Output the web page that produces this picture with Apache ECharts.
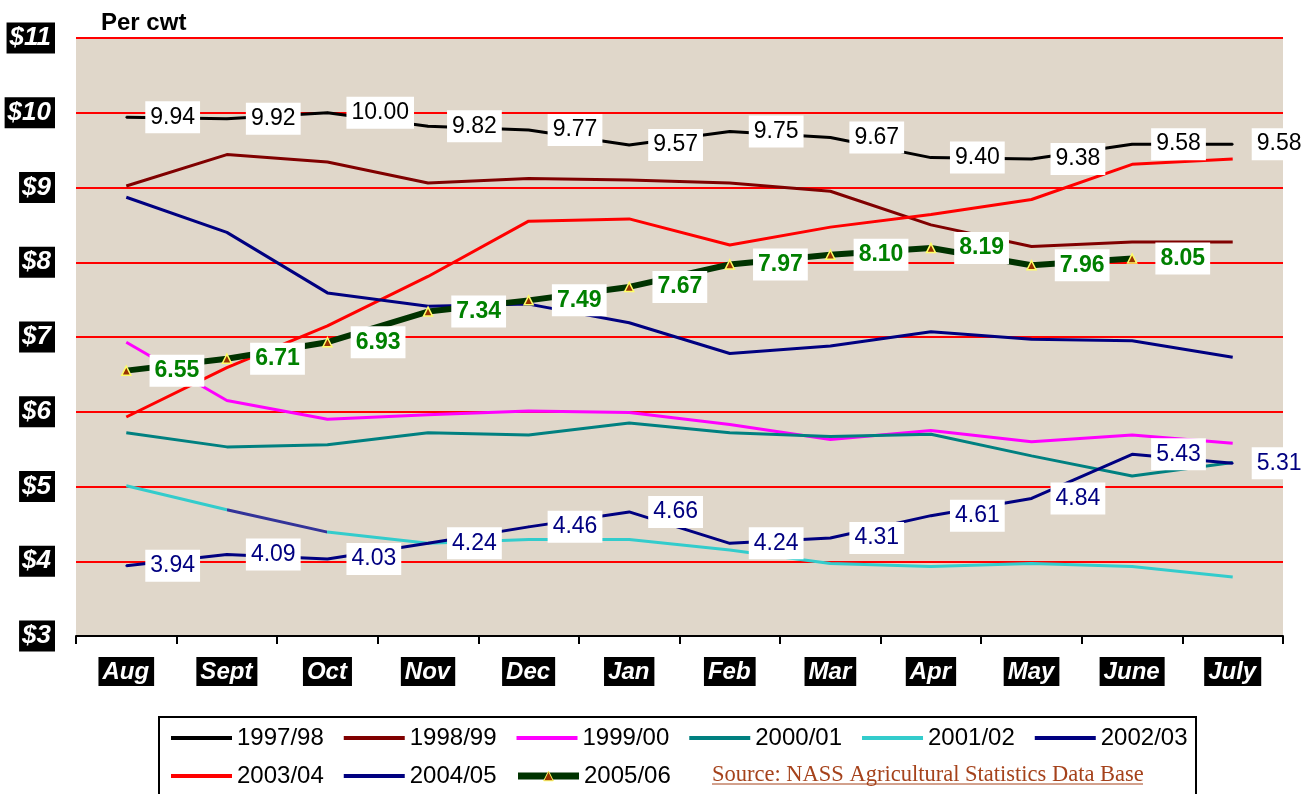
<!DOCTYPE html>
<html>
<head>
<meta charset="utf-8">
<script src="https://cdn.jsdelivr.net/npm/echarts@6/dist/echarts.min.js"></script>
<style>
  html, body { margin: 0; padding: 0; background: #fff; }
  #main { width: 1314px; height: 794px; }
</style>
</head>
<body>
<div id="main"></div>
<script>
// 月份
var months = ['Aug', 'Sept', 'Oct', 'Nov', 'Dec', 'Jan', 'Feb', 'Mar', 'Apr', 'May', 'June', 'July'];
var seasons = ['1997/98', '1998/99', '1999/00', '2000/01', '2001/02', '2002/03', '2003/04', '2004/05', '2005/06'];

// 每个年度的价格 ($ per cwt)
var y9798 = [9.94, 9.92, 10.00, 9.82, 9.77, 9.57, 9.75, 9.67, 9.40, 9.38, 9.58, 9.58];
var y9899 = [9.02, 9.44, 9.34, 9.06, 9.12, 9.10, 9.06, 8.95, 8.50, 8.21, 8.27, 8.27];
var y9900 = [6.93, 6.15, 5.90, 5.96, 6.01, 5.99, 5.83, 5.63, 5.75, 5.60, 5.69, 5.58];
var y0001 = [5.72, 5.53, 5.56, 5.72, 5.69, 5.85, 5.72, 5.67, 5.70, 5.41, 5.14, 5.32];
var y0102 = [5.01, 4.69, 4.39, 4.24, 4.29, 4.29, 4.15, 3.97, 3.93, 3.97, 3.93, 3.79];
var y0203 = [3.94, 4.09, 4.03, 4.24, 4.46, 4.66, 4.24, 4.31, 4.61, 4.84, 5.43, 5.31];
var y0304 = [5.93, 6.59, 7.15, 7.81, 8.55, 8.58, 8.23, 8.47, 8.64, 8.84, 9.31, 9.38];
var y0405 = [8.87, 8.40, 7.59, 7.41, 7.44, 7.19, 6.78, 6.88, 7.07, 6.97, 6.95, 6.73];
var y0506 = [6.55, 6.71, 6.93, 7.34, 7.49, 7.67, 7.97, 8.10, 8.19, 7.96, 8.05, null];

var yTicks = [3, 4, 5, 6, 7, 8, 9, 10, 11];

var font = 'Liberation Sans, Arial, sans-serif';

function lbl(color, bold) {
  return {
    show: true,
    position: 'right',
    distance: 18,
    color: color,
    fontFamily: font,
    fontSize: 23,
    fontWeight: bold ? 'bold' : 'normal',
    lineHeight: 25,
    backgroundColor: '#fff',
    padding: [4, 5, 3, 5],
    formatter: function (p) { return p.value == null ? '' : p.value.toFixed(2); }
  };
}

function plain(name, data, color) {
  return {
    name: name, type: 'line', data: data, symbol: 'none',
    lineStyle: { color: color, width: 3 }, itemStyle: { color: color }
  };
}

function labeled(name, data, color, txtColor, bold) {
  return {
    name: name, type: 'line', data: data, z: 3,
    symbol: 'circle', symbolSize: 2,
    lineStyle: { color: color, width: 3 }, itemStyle: { color: color },
    label: lbl(txtColor, bold)
  };
}

var s0506 = labeled('2005/06', y0506, '#003300', '#008000', true);
s0506.symbol = 'triangle';
s0506.symbolSize = 9;
s0506.lineStyle.width = 6;
s0506.itemStyle = { color: '#993300', borderColor: '#ffff66', borderWidth: 1.5 };

// 2001/02 的颜色由 visualMap 决定（Sept-Oct 一段是深蓝）
var s0102 = plain('2001/02', y0102, '#33cccc');
delete s0102.lineStyle.color;

// 图例：前八项只画线，2005/06 画粗线加三角
var legendData = seasons.map(function (s) {
  if (s === '2005/06') {
    return { name: s, lineStyle: { width: 7 }, itemStyle: { borderColor: '#ffff66', borderWidth: 1 } };
  }
  return { name: s, lineStyle: { width: 4 }, itemStyle: { opacity: 0 } };
});

function legendRow(items, top) {
  return {
    data: items, left: 169, top: top,
    padding: 0, itemWidth: 61, itemHeight: 12, itemGap: 18,
    textStyle: { fontFamily: font, fontSize: 24, color: '#000' }
  };
}

var myChart = echarts.init(document.getElementById('main'));
var option = {
  backgroundColor: '#fff',
  animation: false,
  title: {
    text: 'Per cwt', left: 96, top: 6,
    textStyle: { fontFamily: font, fontSize: 24, fontWeight: 'bold', color: '#000' }
  },
  grid: {
    left: 76, right: 31, top: 38, bottom: 158,
    show: true, backgroundColor: '#e0d7ca', borderWidth: 0
  },
  xAxis: {
    type: 'category',
    data: months,
    boundaryGap: true,
    axisLine: { lineStyle: { color: '#000', width: 2 } },
    axisTick: { show: true, length: 8, lineStyle: { color: '#000', width: 2 } },
    axisLabel: {
      margin: 21, color: '#fff', backgroundColor: '#000',
      fontFamily: font, fontSize: 24, fontWeight: 'bold', fontStyle: 'italic',
      padding: [3, 5, 2, 4]
    }
  },
  yAxis: {
    type: 'value', min: yTicks[0], max: yTicks[yTicks.length - 1], interval: 1,
    axisLine: { show: false }, axisTick: { show: false },
    splitLine: { lineStyle: { color: '#ff0000', width: 2 } },
    axisLabel: {
      margin: 21, color: '#fff', backgroundColor: '#000',
      fontFamily: font, fontSize: 26, fontWeight: 'bold', fontStyle: 'italic',
      padding: [3, 4, 2, 3],
      formatter: function (v) { return '$' + v; }
    }
  },
  legend: [
    legendRow(legendData.slice(0, 6), 726),
    legendRow(legendData.slice(6), 764)
  ],
  visualMap: [{
    type: 'piecewise', show: false, seriesIndex: 4, dimension: 0,
    pieces: [{ gte: 1, lte: 2, color: '#333399' }],
    outOfRange: { color: '#33cccc' }
  }],
  graphic: [
    { type: 'rect', z: 0, shape: { x: 159, y: 717, width: 1037, height: 100 },
      style: { fill: '#fff', stroke: '#000', lineWidth: 2 } },
    { type: 'text', z: 5, x: 712, y: 775,
      style: { text: 'Source: NASS Agricultural Statistics Data Base', fill: '#a5421b',
        font: '22.5px Liberation Serif, Times New Roman, serif', textVerticalAlign: 'middle' } },
    { type: 'line', z: 5, shape: { x1: 712, y1: 784, x2: 1143, y2: 784 },
      style: { stroke: '#a5421b', lineWidth: 1 } }
  ],
  series: [
    labeled('1997/98', y9798, '#000000', '#000000', false),
    plain('1998/99', y9899, '#800000'),
    plain('1999/00', y9900, '#ff00ff'),
    plain('2000/01', y0001, '#008080'),
    s0102,
    labeled('2002/03', y0203, '#000080', '#000080', false),
    plain('2003/04', y0304, '#ff0000'),
    plain('2004/05', y0405, '#000080'),
    s0506
  ]
};
myChart.setOption(option);
</script>
</body>
</html>
